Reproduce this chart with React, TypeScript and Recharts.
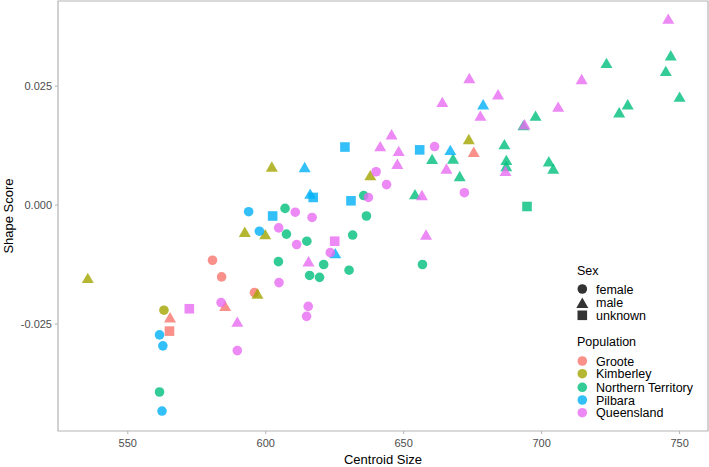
import React from "react";
import { ScatterChart, Scatter, XAxis, YAxis, ReferenceArea } from "recharts";

type Pt = { x: number; y: number };

// Centroid Size (x) vs Shape Score (y)
const grooteFemale: Pt[] = [
  { x: 580.7, y: -0.0116 },
  { x: 584.0, y: -0.0151 },
  { x: 595.9, y: -0.0184 },
];
const grooteMale: Pt[] = [
  { x: 585.3, y: -0.0212 },
  { x: 565.3, y: -0.0236 },
  { x: 675.4, y: 0.0112 },
];
const grooteUnknown: Pt[] = [{ x: 565.1, y: -0.0265 }];

const kimberleyFemale: Pt[] = [{ x: 563.1, y: -0.0221 }];
const kimberleyMale: Pt[] = [
  { x: 535.5, y: -0.0153 },
  { x: 602.2, y: 0.0081 },
  { x: 592.4, y: -0.0056 },
  { x: 599.8, y: -0.0061 },
  { x: 597.0, y: -0.0186 },
  { x: 637.9, y: 0.0063 },
  { x: 673.6, y: 0.0139 },
];
const kimberleyUnknown: Pt[] = [];

const ntFemale: Pt[] = [
  { x: 604.6, y: -0.0119 },
  { x: 607.0, y: -0.0007 },
  { x: 607.5, y: -0.0061 },
  { x: 614.9, y: -0.0076 },
  { x: 621.0, y: -0.0125 },
  { x: 615.9, y: -0.0148 },
  { x: 619.5, y: -0.0152 },
  { x: 630.2, y: -0.0137 },
  { x: 631.5, y: -0.0063 },
  { x: 636.5, y: -0.0023 },
  { x: 635.5, y: 0.002 },
  { x: 656.8, y: -0.0125 },
  { x: 561.5, y: -0.0393 },
];
const ntMale: Pt[] = [
  { x: 654.1, y: 0.0023 },
  { x: 660.3, y: 0.0097 },
  { x: 667.9, y: 0.0098 },
  { x: 670.3, y: 0.0061 },
  { x: 686.5, y: 0.0128 },
  { x: 687.2, y: 0.0095 },
  { x: 687.2, y: 0.0082 },
  { x: 693.4, y: 0.0168 },
  { x: 697.8, y: 0.0188 },
  { x: 702.6, y: 0.0092 },
  { x: 704.2, y: 0.0077 },
  { x: 723.5, y: 0.0299 },
  { x: 728.1, y: 0.0195 },
  { x: 731.2, y: 0.0212 },
  { x: 745.0, y: 0.0282 },
  { x: 746.8, y: 0.0315 },
  { x: 750.0, y: 0.0228 },
];
const ntUnknown: Pt[] = [{ x: 694.7, y: -0.0003 }];

const pilbaraFemale: Pt[] = [
  { x: 593.8, y: -0.0014 },
  { x: 597.7, y: -0.0055 },
  { x: 561.5, y: -0.0273 },
  { x: 562.7, y: -0.0296 },
  { x: 562.4, y: -0.0433 },
];
const pilbaraMale: Pt[] = [
  { x: 614.1, y: 0.008 },
  { x: 616.1, y: 0.0024 },
  { x: 625.2, y: -0.0101 },
  { x: 666.9, y: 0.0116 },
  { x: 678.8, y: 0.0212 },
];
const pilbaraUnknown: Pt[] = [
  { x: 602.5, y: -0.0023 },
  { x: 617.2, y: 0.0016 },
  { x: 628.7, y: 0.0122 },
  { x: 630.9, y: 0.0009 },
  { x: 655.8, y: 0.0116 },
];

const qldFemale: Pt[] = [
  { x: 604.7, y: -0.0048 },
  { x: 610.7, y: -0.0015 },
  { x: 616.8, y: -0.0026 },
  { x: 611.2, y: -0.0083 },
  { x: 623.4, y: -0.01 },
  { x: 604.8, y: -0.0163 },
  { x: 615.4, y: -0.0213 },
  { x: 614.8, y: -0.0234 },
  { x: 583.8, y: -0.0205 },
  { x: 589.7, y: -0.0306 },
  { x: 637.2, y: 0.0016 },
  { x: 640.0, y: 0.007 },
  { x: 643.8, y: 0.0043 },
  { x: 661.2, y: 0.0123 },
  { x: 672.0, y: 0.0026 },
];
const qldMale: Pt[] = [
  { x: 615.5, y: -0.0118 },
  { x: 589.7, y: -0.0245 },
  { x: 641.5, y: 0.0124 },
  { x: 645.6, y: 0.0149 },
  { x: 648.2, y: 0.0114 },
  { x: 647.7, y: 0.0087 },
  { x: 656.6, y: 0.0021 },
  { x: 658.1, y: -0.0062 },
  { x: 665.5, y: 0.0077 },
  { x: 664.0, y: 0.0217 },
  { x: 673.8, y: 0.0267 },
  { x: 677.8, y: 0.0188 },
  { x: 684.2, y: 0.0233 },
  { x: 686.9, y: 0.0072 },
  { x: 693.8, y: 0.017 },
  { x: 706.0, y: 0.0207 },
  { x: 714.5, y: 0.0265 },
  { x: 745.9, y: 0.0392 },
];
const qldUnknown: Pt[] = [
  { x: 572.3, y: -0.0218 },
  { x: 625.0, y: -0.0076 },
];

const xTicks = [550, 600, 650, 700, 750];
const yTicks = [-0.025, 0, 0.025];
const X_MIN = 524.7;
const X_MAX = 760.3;
const Y_MIN = -0.0475;
const Y_MAX = 0.0429;

const populations = ["Groote", "Kimberley", "Northern Territory", "Pilbara", "Queensland"];
const popColors = ["#F8766D", "#A3A500", "#00BF7D", "#00B0F6", "#E76BF3"];
const sexes = ["female", "male", "unknown"];

const popData: Pt[][][] = [
  [grooteFemale, grooteMale, grooteUnknown],
  [kimberleyFemale, kimberleyMale, kimberleyUnknown],
  [ntFemale, ntMale, ntUnknown],
  [pilbaraFemale, pilbaraMale, pilbaraUnknown],
  [qldFemale, qldMale, qldUnknown],
];

const ALPHA = 0.8;
const FONT = "'Liberation Sans', Arial, sans-serif";

function drawMark(sex: string, cx: number, cy: number, color: string, opacity = ALPHA) {
  if (sex === "male") {
    const pts = `${cx},${cy - 5.2} ${cx - 6},${cy + 5.2} ${cx + 6},${cy + 5.2}`;
    return <polygon points={pts} fill={color} fillOpacity={opacity} />;
  }
  if (sex === "unknown") {
    return <rect x={cx - 4.8} y={cy - 4.8} width={9.6} height={9.6} fill={color} fillOpacity={opacity} />;
  }
  return <circle cx={cx} cy={cy} r={4.8} fill={color} fillOpacity={opacity} />;
}

function Legend() {
  const keyX = 582.3;
  const labelX = 596;
  const sexY = [289, 302.7, 315.3];
  const popY = [361, 373.7, 387.3, 400, 412.7];
  return (
    <svg
      width={709}
      height={467}
      style={{ position: "absolute", left: 0, top: 0, pointerEvents: "none" }}
    >
      <g fontFamily={FONT} fontSize={12.5} fill="#000">
        <text x={577} y={274.5}>Sex</text>
        {sexes.map((s, i) => (
          <g key={s}>
            {drawMark(s, keyX, sexY[i], "#000", 0.8)}
            <text x={labelX} y={sexY[i] + 4.5}>{s}</text>
          </g>
        ))}
        <text x={577} y={345.5}>Population</text>
        {populations.map((p, i) => (
          <g key={p}>
            {drawMark("female", keyX, popY[i], popColors[i])}
            <text x={labelX} y={popY[i] + 4.5}>{p}</text>
          </g>
        ))}
      </g>
    </svg>
  );
}

export default function App() {
  return (
    <div style={{ position: "absolute", left: 0, top: 0, width: 709, height: 467, background: "#fff" }}>
      <ScatterChart
        width={709}
        height={467}
        margin={{ top: 1, right: 1, bottom: 0, left: 0 }}
        style={{ fontFamily: FONT }}
      >
        <XAxis
          type="number"
          dataKey="x"
          domain={[X_MIN, X_MAX]}
          ticks={xTicks}
          allowDataOverflow
          height={36}
          axisLine={false}
          tickSize={3}
          tickMargin={5}
          tickLine={{ stroke: "#b3b3b3" }}
          tick={{ fontSize: 11, fill: "#4d4d4d" }}
          label={{
            value: "Centroid Size",
            position: "insideBottom",
            offset: 3,
            style: { fontSize: 13, fill: "#000" },
          }}
        />
        <YAxis
          type="number"
          dataKey="y"
          domain={[Y_MIN, Y_MAX]}
          ticks={yTicks}
          allowDataOverflow
          width={58}
          axisLine={false}
          tickSize={3}
          tickMargin={3}
          tickLine={{ stroke: "#b3b3b3" }}
          tick={{ fontSize: 11, fill: "#4d4d4d" }}
          tickFormatter={(v: number) => v.toFixed(3)}
          label={{
            value: "Shape Score",
            angle: -90,
            position: "insideLeft",
            offset: 8,
            style: { fontSize: 13, fill: "#000", textAnchor: "middle" },
          }}
        />
        <ReferenceArea
          x1={X_MIN}
          x2={X_MAX}
          y1={Y_MIN}
          y2={Y_MAX}
          fill="none"
          stroke="#b3b3b3"
          strokeWidth={1.2}
        />
        {popData.map((bySex, pi) =>
          bySex.map((pts, si) =>
            pts.length ? (
              <Scatter
                key={`${pi}-${si}`}
                data={pts}
                isAnimationActive={false}
                shape={(p: any) => drawMark(sexes[si], p.cx, p.cy, popColors[pi])}
              />
            ) : null
          )
        )}
      </ScatterChart>
      <Legend />
    </div>
  );
}
